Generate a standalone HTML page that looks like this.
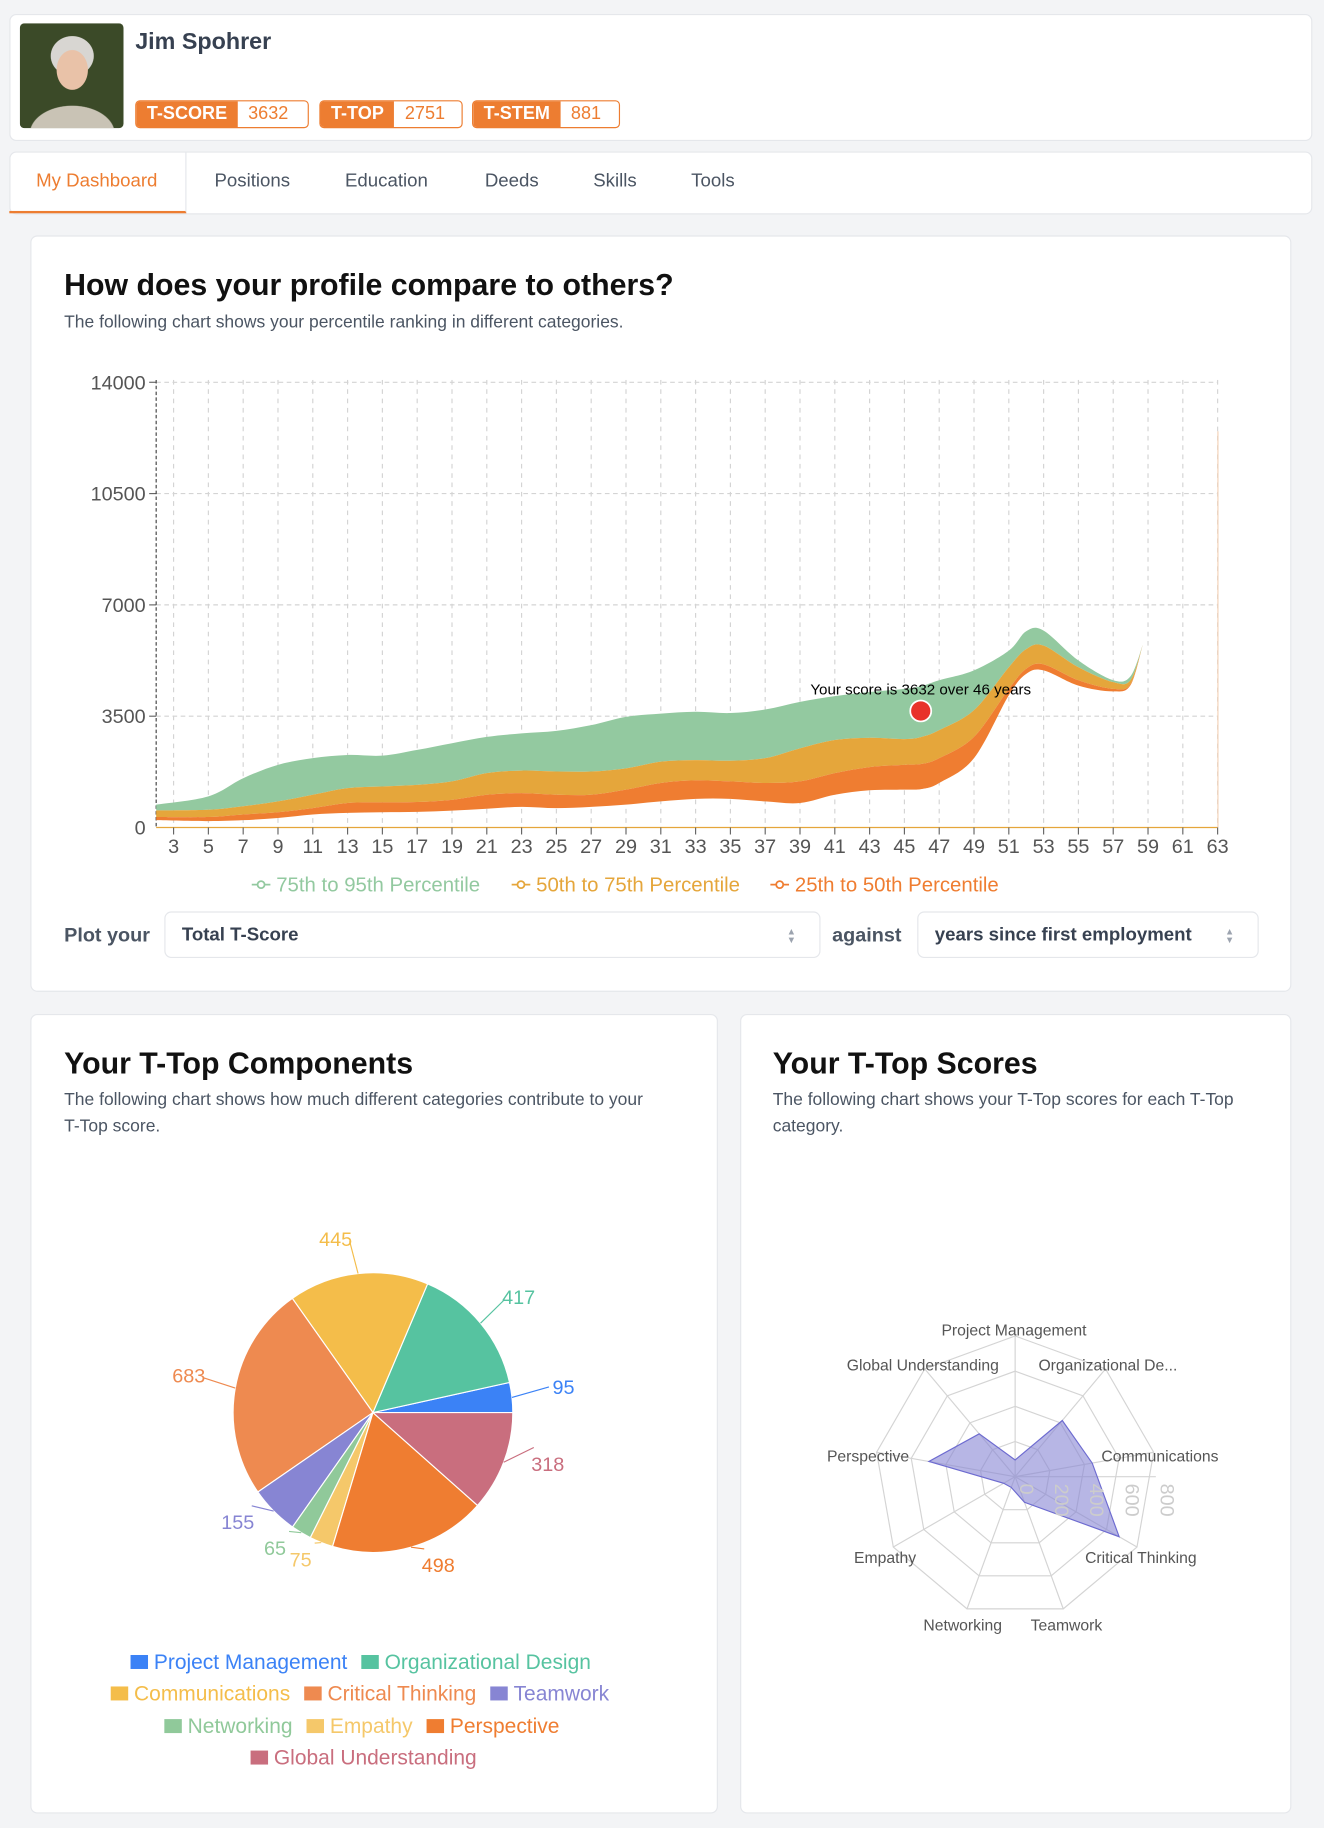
<!DOCTYPE html>
<html><head><meta charset="utf-8">
<style>
html,body{margin:0;padding:0;width:1324px;height:1828px;overflow:hidden;background:#f3f4f6;}
#w{position:absolute;left:0;top:0;width:1136px;height:1568px;transform:scale(1.16549);transform-origin:0 0;font-family:"Liberation Sans",sans-serif;}
.card{position:absolute;background:#fff;border:1px solid #e5e7eb;border-radius:6px;box-sizing:border-box;}
.abs{position:absolute;white-space:nowrap;}
.badge{position:absolute;top:86px;height:24px;border:1px solid #ed7d31;border-radius:4px;box-sizing:border-box;display:flex;font-size:15.5px;font-weight:bold;overflow:hidden;}
.badge b{background:#ed7d31;color:#fff;padding:0 9px;line-height:22px;}
.badge span{color:#ed7d31;padding:0 9px;line-height:22px;font-weight:normal;}
.tab{position:absolute;top:147px;font-size:16px;color:#4b5563;}
h2{margin:0;position:absolute;font-size:26px;font-weight:bold;color:#111;}
.desc{position:absolute;font-size:15px;color:#4b5563;line-height:23px;}
.sel{position:absolute;top:782px;height:40px;border:1px solid #e5e7eb;border-radius:6px;box-sizing:border-box;font-size:16px;color:#374151;font-weight:bold;line-height:40px;padding-left:14px;}
.sel i{position:absolute;right:20px;top:13px;font-style:normal;color:#9ca3af;font-size:8px;line-height:7px;}
</style></head><body><div id="w">
<div class="card" style="left:8px;top:12px;width:1118px;height:109px;"></div>
<div class="abs" style="left:17px;top:20px;width:89px;height:90px;border-radius:4px;background:radial-gradient(ellipse 22px 28px at 45px 40px,#e9c2a8 60%,transparent 62%),radial-gradient(ellipse 26px 24px at 45px 28px,#d8d6d2 70%,transparent 72%),radial-gradient(ellipse 45px 30px at 45px 95px,#c9c3b5 80%,transparent 82%),#3b4a28;"></div>
<div class="abs" style="left:116px;top:25px;font-size:20px;font-weight:bold;color:#374151;">Jim Spohrer</div>
<div class="badge" style="left:116px;width:149px;"><b>T-SCORE</b><span>3632</span></div>
<div class="badge" style="left:274px;width:123px;"><b>T-TOP</b><span>2751</span></div>
<div class="badge" style="left:405px;width:127px;"><b>T-STEM</b><span>881</span></div>

<div class="card" style="left:8px;top:130px;width:1118px;height:54px;"></div>
<div class="abs" style="left:8px;top:130px;width:152px;height:53px;border-right:1px solid #e5e7eb;border-bottom:2px solid #ed7d31;box-sizing:border-box;"></div>
<div class="tab" style="left:31px;color:#ed7d31;">My Dashboard</div>
<div class="tab" style="left:184px;">Positions</div>
<div class="tab" style="left:296px;">Education</div>
<div class="tab" style="left:416px;">Deeds</div>
<div class="tab" style="left:509px;">Skills</div>
<div class="tab" style="left:593px;">Tools</div>

<div class="card" style="left:26px;top:202px;width:1082px;height:649px;"></div>
<h2 style="left:55px;top:229px;">How does your profile compare to others?</h2>
<div class="desc" style="left:55px;top:265px;">The following chart shows your percentile ranking in different categories.</div>
<svg class="abs" style="left:0;top:0" width="1136" height="800" id="chart" font-family="Liberation Sans, sans-serif"></svg>
<div class="abs" style="left:55px;top:793px;font-size:17px;font-weight:bold;color:#4b5563;">Plot your</div>
<div class="sel" style="left:141px;width:563px;">Total T-Score<i>&#9650;<br>&#9660;</i></div>
<div class="abs" style="left:714px;top:793px;font-size:17px;font-weight:bold;color:#4b5563;">against</div>
<div class="sel" style="left:787px;width:293px;">years since first employment<i>&#9650;<br>&#9660;</i></div>

<div class="card" style="left:26px;top:870px;width:590px;height:686px;"></div>
<h2 style="left:55px;top:897px;">Your T-Top Components</h2>
<div class="desc" style="left:55px;top:932px;width:505px;white-space:normal;">The following chart shows how much different categories contribute to your T-Top score.</div>
<div class="card" style="left:635px;top:870px;width:473px;height:686px;"></div>
<h2 style="left:663px;top:897px;">Your T-Top Scores</h2>
<div class="desc" style="left:663px;top:932px;width:405px;white-space:normal;">The following chart shows your T-Top scores for each T-Top category.</div>
<svg class="abs" style="left:0;top:980px" width="1136" height="560" id="bot" font-family="Liberation Sans, sans-serif"></svg>
</div>
<script>
var NS="http://www.w3.org/2000/svg";
function el(p,t,a,txt){var e=document.createElementNS(NS,t);for(var k in a)e.setAttribute(k,a[k]);if(txt!=null)e.textContent=txt;p.appendChild(e);return e;}
var C=document.getElementById('chart');
function X(n){return 134+(n-2)*14.93;} function Y(v){return 710-v/14000*382;}
for(var n=3;n<=63;n+=2){el(C,'line',{x1:X(n),y1:326,x2:X(n),y2:710,stroke:'#d4d4d4','stroke-dasharray':'4,4'});}
[3500,7000,10500,14000].forEach(function(v){el(C,'line',{x1:134,y1:Y(v),x2:1045,y2:Y(v),stroke:'#d4d4d4','stroke-dasharray':'4,3'});
 el(C,'line',{x1:128,y1:Y(v),x2:134,y2:Y(v),stroke:'#666'});el(C,'text',{x:125,y:Y(v)+6,'text-anchor':'end','font-size':17,fill:'#555'},v);});
el(C,'text',{x:125,y:716,'text-anchor':'end','font-size':17,fill:'#555'},0);
el(C,'line',{x1:134,y1:326,x2:134,y2:710,stroke:'#444','stroke-dasharray':'3,2'});
el(C,'line',{x1:134,y1:710,x2:1045,y2:710,stroke:'#e5a63b'});
el(C,'line',{x1:1045,y1:370,x2:1045,y2:710,stroke:'#f3d2b8'});
for(var n=3;n<=63;n+=2){el(C,'line',{x1:X(n),y1:710,x2:X(n),y2:716,stroke:'#666'});el(C,'text',{x:X(n),y:732,'text-anchor':'middle','font-size':17,fill:'#555'},n);}
var yrs=[2,5,7,9,11,13,15,17,19,21,23,25,27,29,31,33,35,37,39,41,43,45,46,47,49,51,52,53,55,57,58,58.7];
var p95=[719,980,1550,1970,2180,2280,2260,2440,2650,2850,2960,3040,3220,3480,3580,3640,3600,3710,3950,4130,4260,4360,4450,4630,4940,5560,6170,6190,5250,4630,4760,5750];
var p75=[540,560,670,820,1030,1240,1290,1340,1450,1710,1790,1760,1760,1860,2070,2120,2100,2180,2490,2750,2820,2780,2850,3060,3690,5040,5610,5720,5040,4570,4640,5750];
var p50=[330,330,410,480,610,770,790,800,870,1030,1080,1030,1030,1190,1400,1480,1450,1400,1450,1710,1900,1970,2000,2180,2850,4360,4990,5130,4630,4360,4520,5750];
var p25=[230,200,230,300,410,460,480,490,530,590,650,610,650,720,820,900,900,820,770,1030,1170,1190,1210,1400,2180,4160,4830,4940,4460,4280,4480,5750];
function pts(a){return yrs.map(function(y,i){return [X(y),Y(a[i])];});}
function curve(P,start){var d=start?'M'+P[0][0]+','+P[0][1]:'L'+P[0][0]+','+P[0][1];
 for(var i=0;i<P.length-1;i++){var p0=P[i-1]||P[i],p1=P[i],p2=P[i+1],p3=P[i+2]||p2;var t=6;
 d+='C'+(p1[0]+(p2[0]-p0[0])/t)+','+(p1[1]+(p2[1]-p0[1])/t)+' '+(p2[0]-(p3[0]-p1[0])/t)+','+(p2[1]-(p3[1]-p1[1])/t)+' '+p2[0]+','+p2[1];}return d;}
function band(top,bot,col){var a=pts(top),b=pts(bot).reverse();el(C,'path',{d:curve(a,true)+curve(b,false)+'Z',fill:col});}
band(p95,p75,'#93c9a0');band(p75,p50,'#e5a63b');band(p50,p25,'#ef7d31');
el(C,'circle',{cx:790,cy:610,r:9,fill:'#e8322a',stroke:'#fff','stroke-width':1.5});
el(C,'text',{x:790,y:596,'text-anchor':'middle','font-size':13,fill:'#000'},'Your score is 3632 over 46 years');
var lg=[[216,'#93c9a0','75th to 95th Percentile'],[439,'#e5a63b','50th to 75th Percentile'],[661,'#ef7d31','25th to 50th Percentile']];
lg.forEach(function(l){el(C,'line',{x1:l[0],y1:759,x2:l[0]+16,y2:759,stroke:l[1],'stroke-width':1.5});el(C,'circle',{cx:l[0]+8,cy:759,r:3,fill:'#fff',stroke:l[1],'stroke-width':1.5});
 el(C,'text',{x:l[0]+21,y:765,'font-size':17.5,fill:l[1]},l[2]);});
var B=document.getElementById('bot');var oy=980;
var vals=[95,417,445,683,155,65,75,498,318];
var cols=['#3b82f6','#56c3a0','#f4bd4a','#ee8a50','#8785d3','#90c99a','#f5c86a','#ef7d31','#c96e7e'];
var names=['Project Management','Organizational Design','Communications','Critical Thinking','Teamwork','Networking','Empathy','Perspective','Global Understanding'];
var lab=[[474,1190,'start'],[445,1113,'middle'],[288,1063,'middle'],[162,1180,'middle'],[204,1306,'middle'],[236,1328,'middle'],[258,1338,'middle'],[376,1343,'middle'],[470,1256,'middle']];
var cx=320,cy=1212-oy,R=120,tot=2751,a0=0;
vals.forEach(function(v,i){var a1=a0+v/tot*2*Math.PI;
 var x0=cx+R*Math.cos(a0),y0=cy-R*Math.sin(a0),x1=cx+R*Math.cos(a1),y1=cy-R*Math.sin(a1);
 el(B,'path',{d:'M'+cx+','+cy+'L'+x0+','+y0+'A'+R+','+R+' 0 '+((a1-a0)>Math.PI?1:0)+' 0 '+x1+','+y1+'Z',fill:cols[i],stroke:'#fff','stroke-width':1});
 var am=(a0+a1)/2,ex=cx+R*Math.cos(am),ey=cy-R*Math.sin(am),L=lab[i],lx=L[0],ly=L[1]-oy;
 var tx=lx+(ex>lx?12:-12),ty=ly+(ey<ly?-14:2);
 if(L[2]=='start'){tx=lx-3;ty=ly;}
 el(B,'polyline',{points:ex+','+ey+' '+tx+','+ty,fill:'none',stroke:cols[i]});
 el(B,'text',{x:lx,y:ly+6,'text-anchor':L[2],'font-size':17,fill:cols[i]},v);
 a0=a1;});
var ry=[1426,1453,1481,1508];
var rowItems=[[0,1],[2,3,4],[5,6,7],[8]];
var rowStart=[112,95,141,215];
rowItems.forEach(function(r,ri){var x=rowStart[ri];r.forEach(function(i){el(B,'rect',{x:x,y:ry[ri]-oy-6,width:15,height:12,fill:cols[i]});
 var t=el(B,'text',{x:x+20,y:ry[ri]-oy+6,'font-size':18,fill:cols[i]},names[i]);x+=20+t.getComputedTextLength()+12;});});
var rx=871,ryc=1267-oy,RR=120.7;
function P(k,r){var a=-Math.PI/2+k*2*Math.PI/9;return [rx+r*Math.cos(a),ryc+r*Math.sin(a)];}
for(var g=1;g<=4;g++){var s='';for(var k=0;k<9;k++){var p=P(k,RR*g/4);s+=p[0]+','+p[1]+' ';}el(B,'polygon',{points:s,fill:'none',stroke:'#d4d4d4'});}
for(var k=0;k<9;k++){var p=P(k,RR);el(B,'line',{x1:rx,y1:ryc,x2:p[0],y2:p[1],stroke:'#d4d4d4'});}
el(B,'line',{x1:rx,y1:ryc,x2:rx+RR,y2:ryc,stroke:'#d4d4d4'});
var s='';for(var k=0;k<9;k++){var p=P(k,vals[k]/800*RR);s+=p[0]+','+p[1]+' ';}
el(B,'polygon',{points:s,fill:'#8785d3','fill-opacity':0.6,stroke:'#6d6bd0','stroke-width':1});
[0,200,400,600,800].forEach(function(v,i){var x=rx+RR*i/4+4;el(B,'text',{x:x,y:ryc+6,'font-size':17,fill:'#ccc',transform:'rotate(90 '+x+' '+(ryc+6)+')'},v);});
var rl=[[870,1146,'middle','Project Management'],[857,1176,'end','Global Understanding'],[891,1176,'start','Organizational De...'],[780,1254,'end','Perspective'],[945,1254,'start','Communications'],[786,1341,'end','Empathy'],[931,1341,'start','Critical Thinking'],[826,1399,'middle','Networking'],[915,1399,'middle','Teamwork']];
rl.forEach(function(l){el(B,'text',{x:l[0],y:l[1]-oy,'text-anchor':l[2],'font-size':13.5,fill:'#555'},l[3]);});
</script>
</body></html>
